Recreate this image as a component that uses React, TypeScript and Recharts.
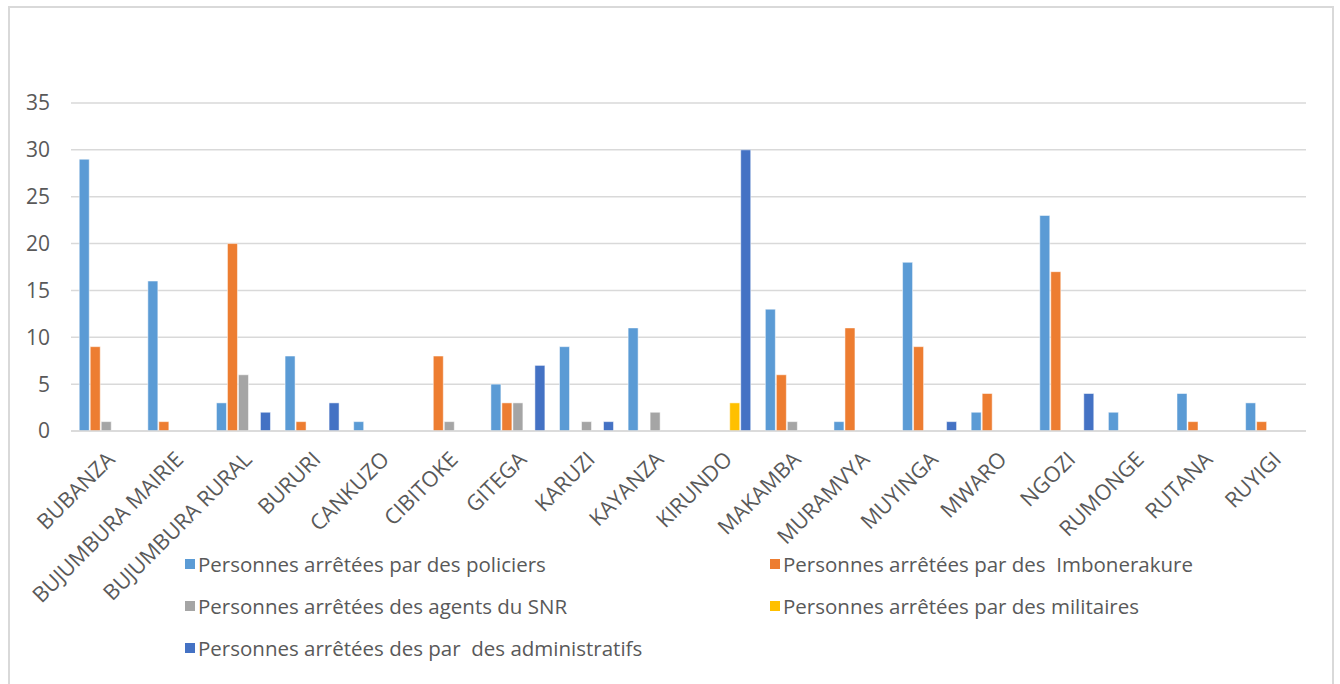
import { BarChart, Bar, XAxis, YAxis, CartesianGrid, Legend } from 'recharts';

const provinces = [
  'BUBANZA', 'BUJUMBURA MAIRIE', 'BUJUMBURA RURAL', 'BURURI', 'CANKUZO', 'CIBITOKE',
  'GITEGA', 'KARUZI', 'KAYANZA', 'KIRUNDO', 'MAKAMBA', 'MURAMVYA', 'MUYINGA',
  'MWARO', 'NGOZI', 'RUMONGE', 'RUTANA', 'RUYIGI',
];

const policiers = [29, 16, 3, 8, 1, 0, 5, 9, 11, 0, 13, 1, 18, 2, 23, 2, 4, 3];
const imbonerakure = [9, 1, 20, 1, 0, 8, 3, 0, 0, 0, 6, 11, 9, 4, 17, 0, 1, 1];
const agentsSnr = [1, 0, 6, 0, 0, 1, 3, 1, 2, 0, 1, 0, 0, 0, 0, 0, 0, 0];
const militaires = [0, 0, 0, 0, 0, 0, 0, 0, 0, 3, 0, 0, 0, 0, 0, 0, 0, 0];
const administratifs = [0, 0, 2, 3, 0, 0, 7, 1, 0, 30, 0, 0, 1, 0, 4, 0, 0, 0];

const yTicks = [0, 5, 10, 15, 20, 25, 30, 35];

const series = [
  { key: 'policiers', name: 'Personnes arrêtées par des policiers', color: '#5B9BD5' },
  { key: 'imbonerakure', name: 'Personnes arrêtées par des  Imbonerakure', color: '#ED7D31' },
  { key: 'snr', name: 'Personnes arrêtées des agents du SNR', color: '#A5A5A5' },
  { key: 'militaires', name: 'Personnes arrêtées par des militaires', color: '#FFC000' },
  { key: 'administratifs', name: 'Personnes arrêtées des par  des administratifs', color: '#4472C4' },
];

const data = provinces.map((name, i) => ({
  name,
  policiers: policiers[i],
  imbonerakure: imbonerakure[i],
  snr: agentsSnr[i],
  militaires: militaires[i],
  administratifs: administratifs[i],
}));

const FONT = '"Open Sans", Lato, sans-serif';

// two-column legend laid out like the office chart it comes from
function LegendGrid() {
  return (
    <div
      style={{
        display: 'grid',
        gridTemplateColumns: '585px auto',
        rowGap: 16,
        paddingLeft: 185,
        paddingTop: 6,
        fontFamily: FONT,
        fontSize: 20.5,
        color: '#595959',
        textAlign: 'left',
      }}
    >
      {series.map((s) => (
        <div key={s.key} style={{ display: 'flex', alignItems: 'center', height: 26, whiteSpace: 'pre' }}>
          <span style={{ width: 10, height: 10, background: s.color, marginRight: 3, display: 'inline-block' }} />
          {s.name}
        </div>
      ))}
    </div>
  );
}

export default function App() {
  return (
    <div style={{ position: 'fixed', left: 0, top: 0, width: 1340, height: 684, background: '#fff', overflow: 'hidden' }}>
      <div
        style={{
          position: 'absolute',
          left: 8,
          top: 6,
          width: 1326,
          height: 700,
          border: '2px solid #d9d9d9',
          boxSizing: 'border-box',
        }}
      />
      <div style={{ position: 'absolute', left: 0, top: 0 }}>
        <BarChart
          width={1340}
          height={684}
          data={data}
          margin={{ top: 103, right: 34, bottom: 9, left: 0 }}
          barCategoryGap="12%"
          barGap={1}
        >
          <CartesianGrid vertical={false} stroke="#d9d9d9" strokeWidth={1.5} />
          <XAxis
            dataKey="name"
            interval={0}
            angle={-45}
            textAnchor="end"
            height={114}
            tickLine={false}
            tickMargin={13}
            axisLine={{ stroke: '#d9d9d9', strokeWidth: 1.5 }}
            tick={{ fill: '#595959', fontSize: 21.5, fontFamily: FONT }}
          />
          <YAxis
            domain={[0, 35]}
            ticks={yTicks}
            width={71}
            tickSize={0}
            tickMargin={21}
            axisLine={false}
            tickLine={false}
            tick={{ fill: '#595959', fontSize: 21, fontFamily: FONT }}
          />
          <Legend verticalAlign="bottom" height={130} content={() => <LegendGrid />} />
          {series.map((s) => (
            <Bar
              key={s.key}
              dataKey={s.key}
              name={s.name}
              fill={s.color}
              stroke="#ffffff"
              strokeWidth={0.5}
              isAnimationActive={false}
            />
          ))}
        </BarChart>
      </div>
    </div>
  );
}
